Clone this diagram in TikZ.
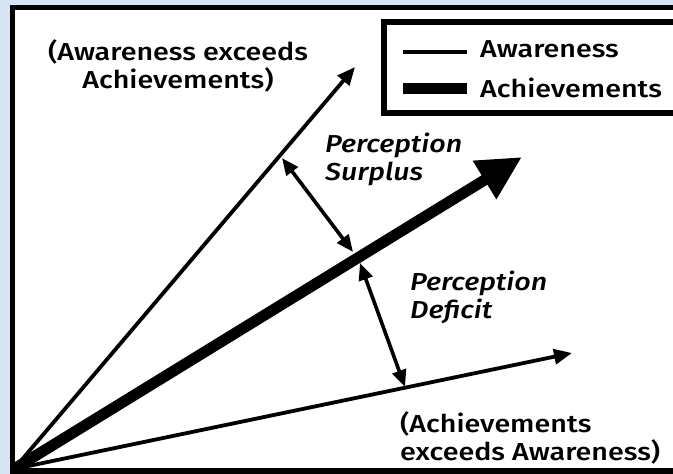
\documentclass[tikz,border=0pt]{standalone}
\usepackage{fontspec}
\setmainfont[FakeStretch=1.17]{Fira Sans Medium}
\usetikzlibrary{arrows.meta,positioning}
\definecolor{paneblue}{RGB}{214,228,246}

\begin{document}
\begin{tikzpicture}[x=1pt,y=-1pt,
        awline/.style={line width=3.8pt,-{Triangle[length=18pt,width=15pt]}},
        acline/.style={line width=11pt,-{Triangle[length=44pt,width=42pt]}},
        gapline/.style={line width=3.6pt,{Triangle[length=17pt,width=14pt]}-{Triangle[length=17pt,width=14pt]}},
        lbl/.style={font=\fontsize{24.5}{28}\selectfont,inner sep=0pt},
        perc/.style={lbl,font=\fontsize{24.5}{28}\selectfont\itshape,align=left,anchor=base west}]
            \useasboundingbox (0,0) rectangle (673,474);
            \fill[paneblue] (0,0) rectangle (673,474);
            \draw[line width=5.5pt,fill=white] (12.5,7.5) rectangle (700,471);
            % the three lines
            \coordinate (o) at (14,469);
            \coordinate (aw) at (355,67);
            \coordinate (ac) at (522,157);
            \coordinate (ex) at (572,353);
            \coordinate (s1) at (282,158);
            \coordinate (s2) at (353,252);
            \coordinate (d1) at (360,263);
            \coordinate (d2) at (405,387);
            \begin{scope}
                \clip (12.5,7.5) rectangle (700,471);
                \draw[awline] (o) -- (aw);
                \draw[awline] (o) -- (ex);
                \draw[acline] (o) -- (ac);
            \end{scope}
            \draw[gapline] (s1) -- (s2);
            \draw[gapline] (d1) -- (d2);
            % labels (base is the last line)
            \node[lbl,align=center,anchor=base](up) at (178,88){(Awareness exceeds\\Achievements)};
            \node[perc](sur) at (325,180){Perception\\Surplus};
            \node[perc](def) at (410,318){Perception\\Deficit};
            \node[lbl,align=left,anchor=base west](low) at (400,460){(Achievements\\exceeds Awareness)};
            % legend
            \draw[line width=5.5pt] (384,22) rectangle (700,113);
            \node[lbl,anchor=base west](lgaw) at (480,57){Awareness};
            \node[lbl,anchor=base west](lgac) at (480,97){Achievements};
            \coordinate (la) at (403,52);
            \coordinate (lb) at (403,88);
            \draw[line width=4pt] (la) -- ([xshift=-13pt]lgaw.west |- la);
            \draw[line width=11pt] (lb) -- ([xshift=-13pt]lgac.west |- lb);
        \end{tikzpicture}
\end{document}
